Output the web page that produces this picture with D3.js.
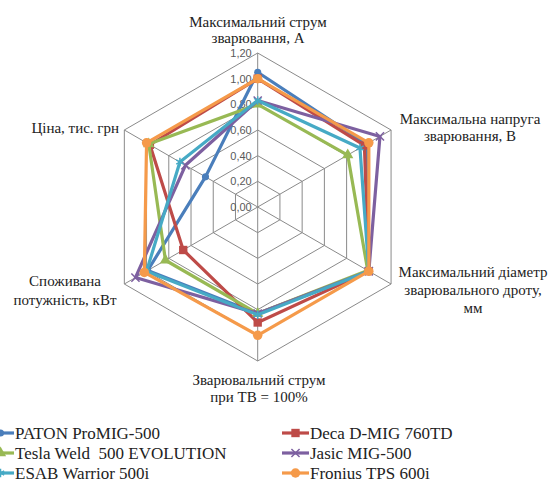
<!DOCTYPE html>
<html>
<head>
<meta charset="utf-8">
<script src="https://cdn.jsdelivr.net/npm/d3@7"></script>
<style>
  body { margin: 0; background: #fff; }
  svg { display: block; }
  .tick { font-family: "Liberation Sans", Arial, sans-serif; font-size: 11px; fill: #595959; }
  .legend text { font-family: "Liberation Serif", "Times New Roman", serif; font-size: 17px; fill: #222; white-space: pre; }
</style>
</head>
<body>
<div id="app"></div>
<script>
// axes, clockwise from top
const axes = [
  ['Максимальний струм', 'зварювання, А'],
  ['Максимальна напруга', 'зварювання, В'],
  ['Максимальний діаметр', 'зварювального дроту,', 'мм'],
  ['Зварювальний струм', 'при ТВ = 100%'],
  ['Споживана', 'потужність, кВт'],
  ['Ціна, тис. грн']
];

const tickValues = [0, 0.2, 0.4, 0.6, 0.8, 1.0, 1.2];
const tickLabels = ['0,00', '0,20', '0,40', '0,60', '0,80', '1,00', '1,20'];

const seriesNames = ['PATON ProMIG-500', 'Deca D-MIG 760TD', 'Tesla Weld  500 EVOLUTION',
                     'Jasic MIG-500', 'ESAB Warrior 500i', 'Fronius TPS 600i'];

const paton   = [1.05, 0.98, 1.00, 0.83, 0.99, 0.47];
const deca    = [1.00, 0.96, 1.00, 0.90, 0.67, 0.97];
const tesla   = [0.80, 0.81, 0.99, 0.83, 0.83, 0.98];
const jasic   = [0.83, 1.10, 1.00, 0.83, 1.10, 0.65];
const esab    = [0.83, 0.92, 1.00, 0.84, 1.00, 0.70];
const fronius = [1.00, 1.00, 1.00, 1.00, 1.02, 1.00];

const seriesValues = [paton, deca, tesla, jasic, esab, fronius];

const colors = ['#4a7ebb', '#be4b48', '#98b954', '#7d60a0', '#46aac5', '#f59a4a'];
const symbols = [d3.symbolCircle, d3.symbolSquare, d3.symbolTriangle, d3.symbolX, d3.symbolAsterisk, d3.symbolCircle];
const symbolSizes = [40, 70, 55, 45, 50, 70];

const W = 560, H = 484;
const cx = 257.7, cy = 207;
const serif = '"Liberation Serif", "Times New Roman", serif';

const svg = d3.select('#app').append('svg')
  .attr('width', W).attr('height', H);

const r = d3.scaleLinear().domain([0, 1.2]).range([0, 154]);
const angle = i => i * Math.PI * 2 / axes.length;

const g = svg.append('g').attr('transform', `translate(${cx},${cy})`);

// grid hexagons
const ringLine = d3.lineRadial().curve(d3.curveLinearClosed);
g.append('g').selectAll('path')
  .data(tickValues.slice(1))
  .join('path')
  .attr('d', v => ringLine(axes.map((a, i) => [angle(i), r(v)])))
  .attr('fill', 'none')
  .attr('stroke', '#8a8a8a')
  .attr('stroke-width', 1);

// spokes
g.append('g').selectAll('line')
  .data(axes)
  .join('line')
  .attr('x1', 0).attr('y1', 0)
  .attr('x2', (d, i) => r(1.2) * Math.sin(angle(i)))
  .attr('y2', (d, i) => -r(1.2) * Math.cos(angle(i)))
  .attr('stroke', '#8a8a8a')
  .attr('stroke-width', 1);

// tick labels along top axis
g.append('g').selectAll('text')
  .data(tickValues)
  .join('text')
  .attr('class', 'tick')
  .attr('x', -6)
  .attr('y', v => -r(v))
  .attr('dy', '0.35em')
  .attr('text-anchor', 'end')
  .text((v, i) => tickLabels[i]);

// series
const seriesLine = d3.lineRadial().curve(d3.curveLinearClosed);
seriesValues.forEach((vals, s) => {
  const sg = g.append('g');
  sg.append('path')
    .attr('d', seriesLine(vals.map((v, i) => [angle(i), r(v)])))
    .attr('fill', 'none')
    .attr('stroke', colors[s])
    .attr('stroke-width', 3.2)
    .attr('stroke-linejoin', 'round');
  const stroked = symbols[s] === d3.symbolX || symbols[s] === d3.symbolAsterisk;
  sg.selectAll('path.mk')
    .data(vals)
    .join('path')
    .attr('class', 'mk')
    .attr('transform', (v, i) => `translate(${r(v) * Math.sin(angle(i))},${-r(v) * Math.cos(angle(i))})`)
    .attr('d', d3.symbol(symbols[s], symbolSizes[s]))
    .attr('fill', stroked ? 'none' : colors[s])
    .attr('stroke', colors[s])
    .attr('stroke-width', stroked ? 1.5 : 0);
});

// axis labels
const labelPos = [
  { x: 258, y: 22, anchor: 'middle' },
  { x: 470, y: 119, anchor: 'middle' },
  { x: 473, y: 272, anchor: 'middle' },
  { x: 259, y: 380, anchor: 'middle' },
  { x: 65, y: 281, anchor: 'middle' },
  { x: 119, y: 128, anchor: 'end' }
];
const labelGap = [16, 17, 18, 17, 19, 16];
const labels = svg.append('g');
axes.forEach((lines, i) => {
  lines.forEach((t, j) => {
    labels.append('text')
      .attr('x', labelPos[i].x)
      .attr('y', labelPos[i].y + j * labelGap[i])
      .attr('dy', '0.35em')
      .attr('text-anchor', labelPos[i].anchor)
      .style('font-family', serif)
      .style('font-size', '15px')
      .style('fill', '#222')
      .text(t);
  });
});

// legend
const legend = svg.append('g').attr('class', 'legend');
const legX = [-13, 282];
const legY = [433, 453, 473];
seriesNames.forEach((name, s) => {
  const col = s % 2, row = Math.floor(s / 2);
  const lg = legend.append('g').attr('transform', `translate(${legX[col]},${legY[row]})`);
  lg.append('line')
    .attr('x1', 0).attr('x2', 27).attr('y1', 0).attr('y2', 0)
    .attr('stroke', colors[s]).attr('stroke-width', 3.2);
  const stroked = symbols[s] === d3.symbolX || symbols[s] === d3.symbolAsterisk;
  lg.append('path')
    .attr('transform', 'translate(13.5,0)')
    .attr('d', d3.symbol(symbols[s], symbolSizes[s]))
    .attr('fill', stroked ? 'none' : colors[s])
    .attr('stroke', colors[s])
    .attr('stroke-width', stroked ? 1.5 : 0);
  lg.append('text')
    .attr('x', 28)
    .attr('dy', '0.35em')
    .text(name);
});
</script>
</body>
</html>
